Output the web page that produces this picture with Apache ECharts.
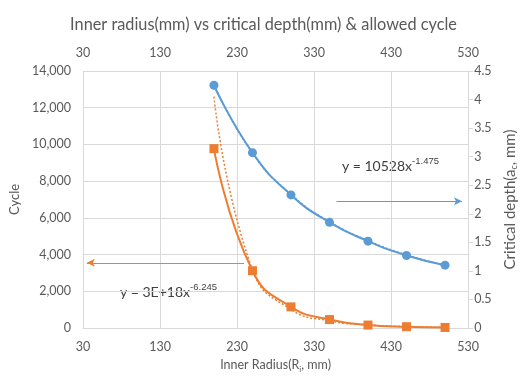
<!DOCTYPE html>
<html>
<head>
<meta charset="UTF-8">
<title>Inner radius vs critical depth</title>
<script src="https://cdn.jsdelivr.net/npm/echarts@6/dist/echarts.min.js"></script>
<style>
  html, body { margin: 0; padding: 0; background: #fff; }
  #chart { width: 527px; height: 378px; }
</style>
</head>
<body>
<div id="chart"></div>
<script>
// values
const radius = [200, 250, 300, 350, 400, 450, 500];
const cycle = [9770, 3120, 1150, 460, 160, 70, 30];
const depth = [4.25, 3.07, 2.33, 1.85, 1.52, 1.27, 1.10];
// dotted power trendlines
const cycleTrend = [12600, 3170, 1010, 390, 170, 80, 40];
const depthTrend = [4.25, 3.06, 2.34, 1.86, 1.53, 1.28, 1.10];
// axis ranges / ticks
const xRange = [30, 530], xStep = 100;
const cycleRange = [0, 14000], cycleStep = 2000;
const depthRange = [0, 4.5], depthStep = 0.5;
// arrow annotations, data coordinates
const cycleArrow = [[239, 3550], [35, 3550]];
const depthArrow = [[359, 2.22], [522, 2.22]];

const BLUE = '#5B9BD5', ORANGE = '#ED7D31', GRID = '#D9D9D9', TXT = '#595959';
const FONT = 'Lato';

const pairs = (ys) => radius.map((r, i) => [r, ys[i]]);
const arrow = (pts, color) => ({
    silent: true,
    symbol: ['none', 'arrow'],
    symbolSize: [6, 8],
    label: { show: false },
    lineStyle: { color: color, width: 1, type: 'solid' },
    data: [[{ coord: pts[0] }, { coord: pts[1] }]]
});

const chart = echarts.init(document.getElementById('chart'));
chart.setOption({
    animation: false,
    textStyle: { fontFamily: FONT },
    title: {
        text: 'Inner radius(mm) vs critical depth(mm) & allowed cycle',
        left: 'center',
        top: 12,
        textStyle: { fontSize: 16.3, fontWeight: 'normal', color: TXT, fontFamily: FONT }
    },
    grid: { left: 74, right: 49, top: 71, bottom: 48 },
    xAxis: [{
        type: 'value',
        position: 'bottom',
        min: xRange[0], max: xRange[1], interval: xStep,
        name: 'Inner Radius(R{sub|i}, mm)',
        nameLocation: 'middle',
        nameGap: 29,
        nameTextStyle: { color: TXT, fontSize: 12.5, rich: { sub: { fontSize: 8, padding: [8, 0, 0, 0], color: TXT } } },
        axisLine: { lineStyle: { color: GRID } },
        axisTick: { show: false },
        axisLabel: { color: TXT, fontSize: 12.5, margin: 12 },
        splitLine: { lineStyle: { color: GRID } }
    }, {
        type: 'value',
        position: 'top',
        min: xRange[0], max: xRange[1], interval: xStep,
        axisLine: { show: false },
        axisTick: { show: true, length: 6, lineStyle: { color: GRID } },
        axisLabel: { color: TXT, fontSize: 12.5, margin: 12 },
        splitLine: { show: false }
    }],
    yAxis: [{
        type: 'value',
        min: cycleRange[0], max: cycleRange[1], interval: cycleStep,
        name: 'Cycle',
        nameLocation: 'middle',
        nameRotate: 90,
        nameGap: 40,
        nameTextStyle: { color: TXT, fontSize: 13 },
        axisLine: { show: false },
        axisTick: { show: false },
        axisLabel: { color: TXT, fontSize: 12.5, margin: 12, formatter: v => v.toLocaleString('en-US') },
        splitLine: { lineStyle: { color: GRID } }
    }, {
        type: 'value',
        position: 'right',
        min: depthRange[0], max: depthRange[1], interval: depthStep,
        name: 'Critical depth(a{sub|c}, mm)',
        nameLocation: 'middle',
        nameRotate: 90,
        nameGap: 32,
        nameTextStyle: { color: TXT, fontSize: 15, rich: { sub: { fontSize: 9, padding: [9, 0, 0, 0], color: TXT } } },
        axisLine: { show: true, lineStyle: { color: GRID } },
        axisTick: { show: true, length: 5, lineStyle: { color: GRID } },
        axisLabel: { color: TXT, fontSize: 12.5, margin: 6 },
        splitLine: { show: false }
    }],
    graphic: [{
        type: 'text', left: 342, top: 156, silent: true,
        style: {
            text: 'y = 10528x{sup|-1.475}', fill: '#404040', font: '14px ' + FONT,
            rich: { sup: { fontSize: 9.5, padding: [0, 0, 10, 0], fill: '#404040' } }
        }
    }, {
        type: 'text', left: 120, top: 282, silent: true,
        style: {
            text: 'y = 3E+18x{sup|-6.245}', fill: '#404040', font: '14px ' + FONT,
            rich: { sup: { fontSize: 9.5, padding: [0, 0, 10, 0], fill: '#404040' } }
        }
    }],
    series: [{
        name: 'cycle trend',
        type: 'line',
        yAxisIndex: 0,
        data: pairs(cycleTrend),
        smooth: 0.5,
        showSymbol: false,
        silent: true,
        lineStyle: { color: ORANGE, width: 1.5, type: [2, 2] },
        z: 1
    }, {
        name: 'depth trend',
        type: 'line',
        yAxisIndex: 1,
        data: pairs(depthTrend),
        smooth: 0.5,
        showSymbol: false,
        silent: true,
        lineStyle: { color: BLUE, width: 1.5, type: [2, 2] },
        z: 1
    }, {
        name: 'Cycle',
        type: 'line',
        yAxisIndex: 0,
        data: pairs(cycle),
        smooth: 0.5,
        symbol: 'rect',
        symbolSize: 9,
        itemStyle: { color: ORANGE },
        lineStyle: { color: ORANGE, width: 2 },
        markLine: arrow(cycleArrow, ORANGE),
        z: 3
    }, {
        name: 'Critical depth',
        type: 'line',
        yAxisIndex: 1,
        data: pairs(depth),
        smooth: 0.5,
        symbol: 'circle',
        symbolSize: 9,
        itemStyle: { color: BLUE },
        lineStyle: { color: BLUE, width: 2 },
        markLine: arrow(depthArrow, BLUE),
        z: 3
    }]
});
</script>
</body>
</html>
